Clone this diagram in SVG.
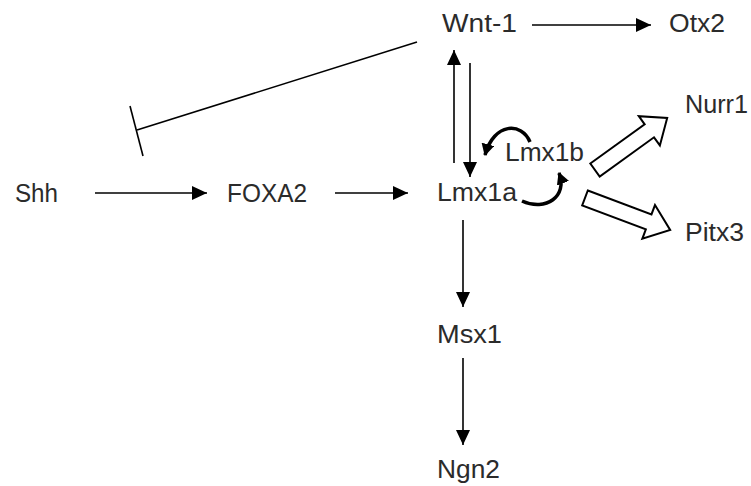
<svg xmlns="http://www.w3.org/2000/svg" width="751" height="486" viewBox="0 0 751 486">
<defs>
<style>
.lbl{font-family:"Liberation Sans",Arial,sans-serif;font-size:25px;fill:#2b2b2b}
.ln{stroke:#000;stroke-width:1.6;fill:none}
.cv{stroke:#000;stroke-width:3.5;fill:none}
.blk{stroke:#000;stroke-width:2;fill:#fff;stroke-linejoin:miter}
</style>
<marker id="ah" markerUnits="userSpaceOnUse" markerWidth="16" markerHeight="15" refX="15" refY="7" orient="auto">
<path d="M0,0 L15,7 L0,14 Z" fill="#000"/>
</marker>
<marker id="ahc" markerUnits="userSpaceOnUse" markerWidth="14" markerHeight="14" refX="11" refY="6.5" orient="auto">
<path d="M0,0 L12,6.5 L0,13 Z" fill="#000"/>
</marker>
</defs>
<rect width="751" height="486" fill="#fff"/>
<g id="connectors">
<line class="ln" x1="532" y1="25" x2="651" y2="25" marker-end="url(#ah)"/>
<line class="ln" x1="95" y1="193" x2="207" y2="193" marker-end="url(#ah)"/>
<line class="ln" x1="335" y1="193" x2="408" y2="193" marker-end="url(#ah)"/>
<line class="ln" x1="454" y1="163" x2="454" y2="50" marker-end="url(#ah)"/>
<line class="ln" x1="470" y1="63" x2="470" y2="177" marker-end="url(#ah)"/>
<line class="ln" x1="463" y1="220" x2="463" y2="307" marker-end="url(#ah)"/>
<line class="ln" x1="463" y1="358" x2="463" y2="445" marker-end="url(#ah)"/>
<line class="ln" x1="417" y1="42" x2="137" y2="130"/>
<line class="ln" x1="130" y1="106" x2="143" y2="156"/>
<path class="cv" d="M530 142 C522 122 494 122 485 155" marker-end="url(#ahc)"/>
<path class="cv" d="M522 201 C546 212 568 196 559 173" marker-end="url(#ahc)"/>
<polygon class="blk" transform="translate(595,170) rotate(-35.8)" points="0,-8 67,-8 67,-18 89,0 67,18 67,8 0,8"/>
<polygon class="blk" transform="translate(585,198) rotate(20.6)" points="0,-8 68,-8 68,-18 91,0 68,18 68,8 0,8"/>
</g>
<g id="node-wnt1"><text class="lbl" x="442" y="32" textLength="75" lengthAdjust="spacingAndGlyphs">Wnt-1</text></g>
<g id="node-otx2"><text class="lbl" x="669" y="32" textLength="56" lengthAdjust="spacingAndGlyphs">Otx2</text></g>
<g id="node-shh"><text class="lbl" x="15" y="202" textLength="43" lengthAdjust="spacingAndGlyphs">Shh</text></g>
<g id="node-foxa2"><text class="lbl" x="227" y="202" textLength="80" lengthAdjust="spacingAndGlyphs">FOXA2</text></g>
<g id="node-lmx1a"><text class="lbl" x="437" y="201" textLength="80" lengthAdjust="spacingAndGlyphs">Lmx1a</text></g>
<g id="node-lmx1b"><text class="lbl" x="505" y="161" textLength="79" lengthAdjust="spacingAndGlyphs">Lmx1b</text></g>
<g id="node-nurr1"><text class="lbl" x="685" y="113" textLength="63" lengthAdjust="spacingAndGlyphs">Nurr1</text></g>
<g id="node-pitx3"><text class="lbl" x="685" y="241" textLength="59" lengthAdjust="spacingAndGlyphs">Pitx3</text></g>
<g id="node-msx1"><text class="lbl" x="437" y="343" textLength="65" lengthAdjust="spacingAndGlyphs">Msx1</text></g>
<g id="node-ngn2"><text class="lbl" x="437" y="478" textLength="63" lengthAdjust="spacingAndGlyphs">Ngn2</text></g>
</svg>
